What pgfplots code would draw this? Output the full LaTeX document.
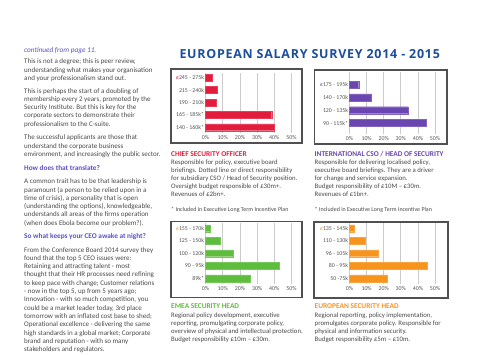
\documentclass[border=0pt]{standalone}
\usepackage{fontspec}
\setmainfont{Carlito}
\newfontfamily\titlefont[LetterSpace=6]{Open Sans}
\usepackage{pgfplots}
\pgfplotsset{compat=1.18}
\definecolor{cred}{HTML}{E31C3D}
\definecolor{cpurple}{HTML}{6B46B0}
\definecolor{cgreen}{HTML}{5EBD3C}
\definecolor{corange}{HTML}{F7941E}
\definecolor{titleblue}{HTML}{1C4E9C}
\definecolor{headblue}{HTML}{5A52C6}
\definecolor{bodygray}{HTML}{4A4A4A}
\definecolor{tickgray}{HTML}{555555}
\definecolor{framegray}{HTML}{505050}
\newcommand\tl[1]{\begin{tabular}[t]{@{}l@{}}#1\end{tabular}}
\pgfplotsset{salary/.style={xbar, scale only axis, xmin=0, xmax=50,
  xtick={0,10,20,30,40,50}, xticklabels={0\%,10\%,20\%,30\%,40\%,50\%},
  xmajorgrids, grid style={gray!40, line width=0.7pt},
  axis line style={draw=none}, major tick length=0pt,
  tick label style={font=\fontsize{5.9}{6.5}\selectfont, text=tickgray},
  yticklabel style={inner sep=1.3pt},
  xticklabel style={inner sep=1.3pt, yshift=-0.8bp},
  clip=false, bar width=0.55}}
\begin{document}
\begin{tikzpicture}[x=1bp,y=1bp]
\path[fill=white,use as bounding box] (0,0) rectangle (496,-354);
% left column
\begin{scope}[every node/.style={anchor=base west, inner sep=0, text=bodygray, font=\fontsize{7.05}{8.35}\selectfont}]
\node[text=headblue, font=\fontsize{7.3}{8.35}\selectfont\itshape] at (24,-52.7) {continued from page 11.};
\node at (24,-63.7) {\tl{This is not a degree; this is peer review,\\understanding what makes your organisation\\and your professionalism stand out.}};
\node at (24,-93) {\tl{This is perhaps the start of a doubling of\\membership every 2 years, promoted by the\\Security Institute. But this is key for the\\corporate sectors to demonstrate their\\professionalism to the C-suite.}};
\node at (24,-139.7) {\tl{The successful applicants are those that\\understand the corporate business\\environment, and increasingly the public sector.}};
\node[text=headblue, font=\fontsize{7.3}{8.35}\selectfont\bfseries] at (24,-170) {How does that translate?};
\node at (24,-183.7) {\tl{A common trait has to be that leadership is\\paramount (a person to be relied upon in a\\time of crisis), a personality that is open\\(understanding the options), knowledgeable,\\understands all areas of the firms operation\\(when does Ebola become our problem?).}};
\node[text=headblue, font=\fontsize{7.3}{8.35}\selectfont\bfseries] at (24,-238.7) {So what keeps your CEO awake at night?};
\node at (24,-252) {\tl{From the Conference Board 2014 survey they\\found that the top 5 CEO issues were:\\Retaining and attracting talent - most\\thought that their HR processes need refining\\to keep pace with change; Customer relations\\- now in the top 5, up from 5 years ago;\\Innovation - with so much competition, you\\could be a market leader today, 3rd place\\tomorrow with an inflated cost base to shed;\\Operational excellence - delivering the same\\high standards in a global market; Corporate\\brand and reputation - with so many\\stakeholders and regulators.}};
\end{scope}
% title
\node[anchor=base west, inner sep=0, text=titleblue, font=\titlefont\bfseries\fontsize{12.5}{14}\selectfont] at (179.3,-58.3) {EUROPEAN SALARY SURVEY 2014 - 2015};
% frames
\draw[framegray, line width=1.1bp] (171,-69) rectangle (302,-143);
\draw[framegray, line width=1.1bp] (314.7,-70) rectangle (447,-144);
\draw[framegray, line width=1.1bp] (171,-221.7) rectangle (302,-297.7);
\draw[framegray, line width=1.1bp] (314,-222) rectangle (448,-298);
% chart 1
\begin{axis}[salary, at={(205.5bp,-133bp)}, anchor=south west, width=86bp, height=60.3bp,
  ymin=-0.46, ymax=4.4, ytick={0,...,4},
  yticklabels={140 - 160k*,165 - 185k*,190 - 210k,215 - 240k,{\textcolor{cred}{£}245 - 275k}}]
\addplot[fill=cred, draw=cred!85!white] coordinates {(40,0) (38.5,1) (6.3,2) (6.7,3) (4,4)};
\end{axis}
% chart 2
\begin{axis}[salary, at={(349.5bp,-134.3bp)}, anchor=south west, width=85.5bp, height=62bp,
  ymin=-0.885, ymax=3.97, ytick={0,...,3},
  yticklabels={90 - 115k*,120 - 135k,140 - 170k,{\textcolor{cpurple}{£}175 - 195k}}]
\addplot[fill=cpurple, draw=cpurple!85!white] coordinates {(44.6,0) (34.2,1) (12.6,2) (5.4,3)};
\end{axis}
% chart 3
\begin{axis}[salary, at={(205.5bp,-284.3bp)}, anchor=south west, width=86bp, height=61bp,
  ymin=-0.48, ymax=4.4, ytick={0,...,4},
  yticklabels={89k*,90 - 95k,100 - 120k,125 - 150k,{\textcolor{corange}{£}155 - 170k}}]
\addplot[fill=cgreen, draw=cgreen!85!white] coordinates {(25.8,0) (42.8,1) (16.2,2) (8.6,3) (2.7,4)};
\end{axis}
% chart 4
\begin{axis}[salary, at={(349.5bp,-284.3bp)}, anchor=south west, width=85.5bp, height=61bp,
  ymin=-0.48, ymax=4.4, ytick={0,...,4},
  yticklabels={50 -75k,80 - 95k,96 - 105k,110 - 130k,{\textcolor{corange}{£}135 - 145k}}]
\addplot[fill=corange, draw=corange!85!white] coordinates {(22.2,0) (45.7,1) (17,2) (9,3) (2.7,4)};
\end{axis}
% descriptions
\begin{scope}[every node/.style={anchor=base west, inner sep=0, text=bodygray, font=\fontsize{6.8}{8}\selectfont}]
\node[text=cred, font=\fontsize{7.4}{8}\selectfont\bfseries] at (171,-156.6) {CHIEF SECURITY OFFICER};
\node at (171,-164.5) {\tl{Responsible for policy, executive board\\briefings. Dotted line or direct responsibility\\for subsidiary CSO / Head of Security position.\\Oversight budget responsible of £30m+.\\Revenues of £2bn+.}};
\node[font=\fontsize{6}{6.5}\selectfont] at (171,-211) {* Included in Executive Long Term Incentive Plan};
\node[text=cpurple, font=\fontsize{7.4}{8}\selectfont\bfseries] at (314.5,-156.6) {INTERNATIONAL CSO / HEAD OF SECURITY};
\node at (314.5,-164.5) {\tl{Responsible for delivering localised policy,\\executive board briefings. They are a driver\\for change and service expansion.\\Budget responsibility of £10M – £30m.\\Revenues of £1bn+.}};
\node[font=\fontsize{6}{6.5}\selectfont] at (314.5,-211) {* Included in Executive Long Term Incentive Plan};
\node[text=cgreen, font=\fontsize{7.4}{8}\selectfont\bfseries] at (171,-308.6) {EMEA SECURITY HEAD};
\node at (171,-317.8) {\tl{Regional policy development, executive\\reporting, promulgating corporate policy,\\overview of physical and intellectual protection.\\Budget responsibility £10m – £30m.}};
\node[text=corange, font=\fontsize{7.4}{8}\selectfont\bfseries] at (314.5,-308.6) {EUROPEAN SECURITY HEAD};
\node at (314.5,-317.8) {\tl{Regional reporting, policy implementation,\\promulgates corporate policy. Responsible for\\physical and information security.\\Budget responsibility £5m – £10m.}};
\end{scope}
\end{tikzpicture}
\end{document}
